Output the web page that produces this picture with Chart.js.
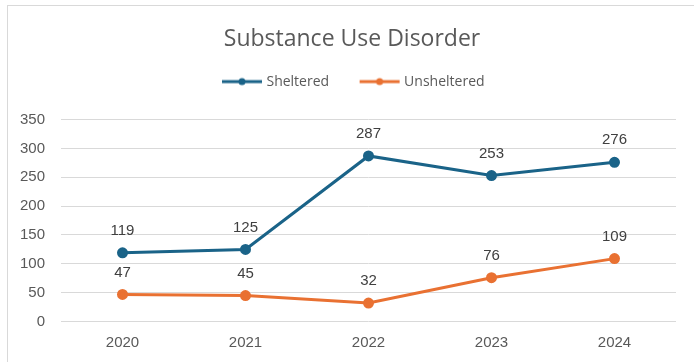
<!DOCTYPE html>
<html lang="en">
<head>
  <meta charset="UTF-8">
  <script src="https://cdn.jsdelivr.net/npm/chart.js@4.4.1/dist/chart.umd.min.js"></script>
  <title>Substance Use Disorder</title>
  <style>
    body { margin: 0; background: #fff; }
    #wrap { position: relative; width: 694px; height: 362px; }
    #frame { position: absolute; left: 7px; top: 5px; right: -2px; bottom: -2px;
             border-left: 1.5px solid #d9d9d9; border-top: 1.5px solid #d9d9d9; }
    canvas { position: absolute; left: 0; top: 0; }
  </style>
</head>
<body>
  <div id="wrap">
    <div id="frame"></div>
    <canvas id="myChart" width="694" height="362"></canvas>
  </div>
  <script>
    const years = ['2020', '2021', '2022', '2023', '2024']
    const sheltered = [119, 125, 287, 253, 276]
    const unsheltered = [47, 45, 32, 76, 109]
    const blue = '#1a6388'
    const orange = '#e97132'
    const grey = '#595959'
    const arial = '"Liberation Sans", Arial, sans-serif'
    const open = '"Open Sans", sans-serif'

    // legend marker: short line with a dot, drawn right-shifted so it sits close to the text
    function marker(color) {
      const c = document.createElement('canvas')
      c.width = 47; c.height = 10
      const g = c.getContext('2d')
      g.strokeStyle = color
      g.lineWidth = 3
      g.beginPath(); g.moveTo(6, 5); g.lineTo(46, 5); g.stroke()
      g.fillStyle = color
      g.beginPath(); g.arc(26, 5, 3.5, 0, Math.PI * 2); g.fill()
      return c
    }

    const valueLabels = {
      id: 'valueLabels',
      afterDatasetsDraw(chart) {
        const ctx = chart.ctx
        ctx.save()
        ctx.font = '15px ' + arial
        ctx.fillStyle = '#404040'
        ctx.textAlign = 'center'
        ctx.textBaseline = 'middle'
        chart.data.datasets.forEach((ds, i) => {
          chart.getDatasetMeta(i).data.forEach((pt, j) => {
            ctx.fillText(ds.data[j], pt.x, pt.y - 22)
          })
        })
        ctx.restore()
      }
    }

    // extra room under the legend, and title + legend nudged right a bit
    const headerTweak = {
      id: 'headerTweak',
      afterInit(chart) {
        const fit = chart.legend.fit
        chart.legend.fit = function () {
          fit.call(this)
          this.height += 21
        }
      },
      afterLayout(chart) {
        [chart.titleBlock, chart.legend].forEach(b => {
          if (!b) return
          b.left += 14
          b.right += 14
        })
      }
    }

    const ctx = document.getElementById('myChart').getContext('2d')
    new Chart(ctx, {
      type: 'line',
      data: {
        labels: years,
        datasets: [{
          label: 'Sheltered',
          data: sheltered,
          borderColor: blue,
          backgroundColor: blue,
          borderWidth: 3,
          pointRadius: 4
        }, {
          label: 'Unsheltered',
          data: unsheltered,
          borderColor: orange,
          backgroundColor: orange,
          borderWidth: 3,
          pointRadius: 4
        }]
      },
      options: {
        responsive: false,
        animation: false,
        layout: { padding: { left: 0, right: 18, top: 0, bottom: 6.5 } },
        plugins: {
          title: {
            display: true,
            text: 'Substance Use Disorder',
            color: grey,
            font: { family: open, size: 23, weight: 'normal' },
            padding: { top: 26, bottom: -7 }
          },
          legend: {
            labels: {
              usePointStyle: true,
              pointStyleWidth: 40,
              boxHeight: 10,
              color: grey,
              font: { family: open, size: 14 },
              padding: 28,
              generateLabels(chart) {
                return chart.data.datasets.map((ds, i) => ({
                  text: ds.label,
                  fontColor: grey,
                  pointStyle: marker(ds.borderColor),
                  strokeStyle: ds.borderColor,
                  fillStyle: ds.borderColor,
                  lineWidth: 0,
                  datasetIndex: i
                }))
              }
            }
          },
          tooltip: { enabled: false }
        },
        scales: {
          x: {
            offset: true,
            grid: { display: false },
            border: { display: false },
            ticks: { color: grey, font: { family: arial, size: 15 }, padding: 4 }
          },
          y: {
            min: 0,
            max: 350,
            afterFit(s) { s.width = 61 },
            grid: { color: '#d9d9d9', drawTicks: false },
            border: { display: false },
            ticks: { stepSize: 50, color: grey, font: { family: arial, size: 15 }, padding: 16 }
          }
        }
      },
      plugins: [valueLabels, headerTweak]
    })
  </script>
</body>
</html>
